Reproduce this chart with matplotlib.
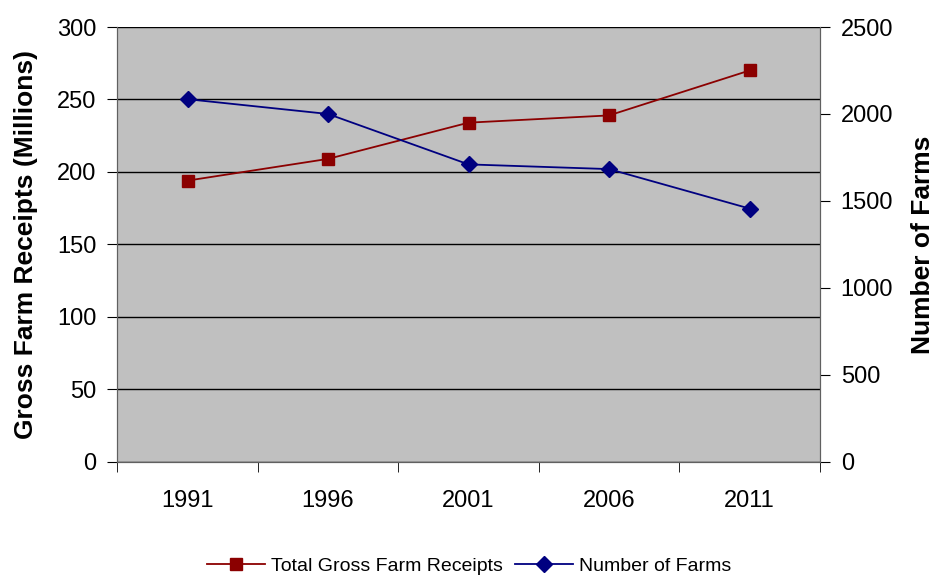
import matplotlib
matplotlib.use('Agg')
import matplotlib.pyplot as plt
import numpy as np

plt.rcParams['font.family'] = ['Liberation Sans', 'DejaVu Sans']

years = ['1991', '1996', '2001', '2006', '2011']
receipts = [194, 209, 234, 239, 270]
farms = [2085, 2000, 1710, 1683, 1456]

red = '#8B0000'
blue = '#000080'

fig = plt.figure(figsize=(9.38, 5.75), dpi=100)
ax = fig.add_axes([0.125, 0.197, 0.749, 0.756])
ax.set_facecolor('#C0C0C0')
ax2 = ax.twinx()

x = np.arange(len(years))
l1, = ax.plot(x, receipts, color=red, marker='s', markersize=9, lw=1.3,
              label='Total Gross Farm Receipts')
l2, = ax2.plot(x, farms, color=blue, marker='D', markersize=8, lw=1.3,
               label='Number of Farms')

ax.set_ylim(0, 300)
ax.set_yticks(np.arange(0, 301, 50))
ax2.set_ylim(0, 2500)
ax2.set_yticks(np.arange(0, 2501, 500))
ax.set_xlim(-0.5, 4.5)
ax.set_xticks(x)
ax.set_xticklabels(years)
ax.set_xticks(np.arange(-0.5, 4.6, 1), minor=True)
ax.tick_params(axis='x', which='major', length=0, pad=20, labelsize=17)
ax.tick_params(axis='x', which='minor', length=7, direction='out')
ax.tick_params(axis='y', length=7, direction='out', labelsize=17, pad=8)
ax2.tick_params(axis='y', length=7, direction='out', labelsize=17, pad=8)

ax.yaxis.grid(True, color='black', lw=1)
ax.set_axisbelow(True)
for a in (ax, ax2):
    for s in a.spines.values():
        s.set_color('#606060')
    a.spines['top'].set_visible(False)

ax.set_ylabel('Gross Farm Receipts (Millions)', fontsize=19, fontweight='bold', labelpad=14)
ax2.set_ylabel('Number of Farms', fontsize=19, fontweight='bold', labelpad=13)

fig.legend(handles=[l1, l2], loc='lower center', bbox_to_anchor=(0.5, -0.03),
           ncol=2, frameon=False, fontsize=14, handlelength=3, columnspacing=0.6,
           handletextpad=0.3)

fig.savefig('out.png', dpi=100)
